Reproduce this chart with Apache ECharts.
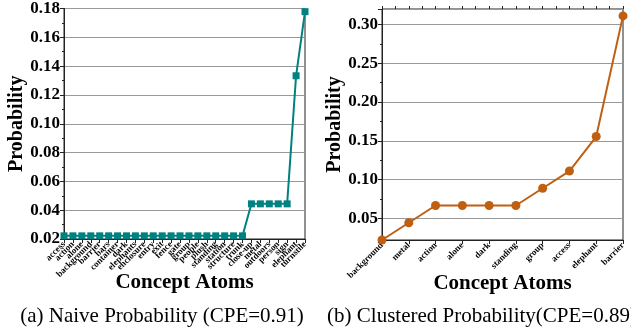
<!DOCTYPE html>
<html>
<head>
<meta charset="utf-8">
<script src="https://cdn.jsdelivr.net/npm/echarts@6/dist/echarts.min.js"></script>
<style>
  html, body { margin: 0; padding: 0; background: #fff; }
  #chart { width: 631px; height: 332px; }
</style>
</head>
<body>
<div id="chart"></div>
<script>
// (a) naive probability, per concept atom
const naiveAtoms = ['access', 'action', 'alone', 'background', 'barrier', 'bars', 'container', 'dark',
  'elephants', 'enclosure', 'entry', 'exit', 'fence', 'gate', 'group', 'people', 'plush', 'standing',
  'station', 'structure', 'trunk', 'close-up', 'metal', 'outdoors', 'person', 'sign', 'elephant', 'turnstile']
const naiveProb = [0.0222, 0.0222, 0.0222, 0.0222, 0.0222, 0.0222, 0.0222, 0.0222,
  0.0222, 0.0222, 0.0222, 0.0222, 0.0222, 0.0222, 0.0222, 0.0222, 0.0222, 0.0222,
  0.0222, 0.0222, 0.0222, 0.0444, 0.0444, 0.0444, 0.0444, 0.0444, 0.1333, 0.1778]

// (b) clustered probability
const clusterAtoms = ['background', 'metal', 'action', 'alone', 'dark', 'standing', 'group', 'access', 'elephant', 'barrier']
const clusterProb = [0.0222, 0.0444, 0.0667, 0.0667, 0.0667, 0.0667, 0.0889, 0.1111, 0.1556, 0.3111]

const captions = ['(a) Naive Probability (CPE=0.91)', '(b) Clustered Probability(CPE=0.89)']

const font = 'Liberation Serif'
const teal = '#008080'
const rust = '#BF5F12'
const ink = '#222'

const chart = echarts.init(document.getElementById('chart'))

function yAxisOpt(gridIndex, min, max) {
  return {
    type: 'value',
    gridIndex: gridIndex,
    min: min,
    max: max,
    name: 'Probability',
    nameLocation: 'middle',
    nameGap: 37,
    nameMoveOverlap: false,
    nameTextStyle: { fontFamily: font, fontWeight: 'bold', fontSize: 20, color: '#000' },
    axisLine: { show: true, lineStyle: { color: ink, width: 1 } },
    axisTick: { show: true, length: 4, lineStyle: { color: ink } },
    minorTick: { show: true, splitNumber: 2, length: 2, lineStyle: { color: ink } },
    axisLabel: {
      fontFamily: font, fontWeight: 'bold', fontSize: 17, color: '#000', margin: 4,
      formatter: v => v.toFixed(2)
    },
    splitLine: { show: true, lineStyle: { color: '#999', width: 1 } }
  }
}

function xAxisOpt(gridIndex, data) {
  return {
    type: 'category', gridIndex: gridIndex, data: data, boundaryGap: false,
    name: 'Concept Atoms', nameLocation: 'middle', nameGap: 33,
    nameMoveOverlap: false,
    nameTextStyle: { fontFamily: font, fontWeight: 'bold', fontSize: 21, color: '#000' },
    axisLine: { lineStyle: { color: ink } },
    axisTick: { show: true, length: 4, interval: 0, lineStyle: { color: ink } },
    axisLabel: { interval: 0, rotate: 45, fontFamily: font, fontWeight: 'bold', fontSize: 9, color: '#000', margin: 4 },
    splitLine: { show: false }
  }
}

const leftY = yAxisOpt(0, 0.02, 0.18)
leftY.interval = 0.02

const rightY = yAxisOpt(1, 0.0222, 0.32)
rightY.splitNumber = 5
rightY.axisLabel.showMinLabel = false
rightY.axisLabel.showMaxLabel = false

const opt = {
  animation: false,
  title: captions.map((t, i) => ({
    text: t, left: i === 0 ? 157 : 477, top: 301, textAlign: 'center',
    textStyle: { fontFamily: font, fontWeight: 'normal', fontSize: 21, color: '#000' }
  })),
  grid: [
    { left: 64, top: 8, width: 241, height: 231, show: true, borderColor: ink, borderWidth: 1 },
    { left: 382, top: 9, width: 241, height: 231, show: true, borderColor: ink, borderWidth: 1 }
  ],
  xAxis: [
    xAxisOpt(0, naiveAtoms),
    xAxisOpt(1, clusterAtoms),
    // half-step ticks between the clustered categories
    {
      type: 'value', gridIndex: 1, min: 0, max: clusterAtoms.length - 1, interval: 0.5,
      axisLine: { show: false }, axisLabel: { show: false }, splitLine: { show: false },
      axisTick: { show: true, length: 3, lineStyle: { color: ink } }
    }
  ],
  yAxis: [leftY, rightY],
  series: [
    {
      type: 'line', xAxisIndex: 0, yAxisIndex: 0, data: naiveProb,
      symbol: 'rect', symbolSize: 7,
      lineStyle: { color: teal, width: 2 },
      itemStyle: { color: teal }
    },
    {
      type: 'line', xAxisIndex: 1, yAxisIndex: 1, data: clusterProb,
      symbol: 'circle', symbolSize: 9,
      lineStyle: { color: rust, width: 2 },
      itemStyle: { color: rust }
    }
  ]
}
chart.setOption(opt)
</script>
</body>
</html>
